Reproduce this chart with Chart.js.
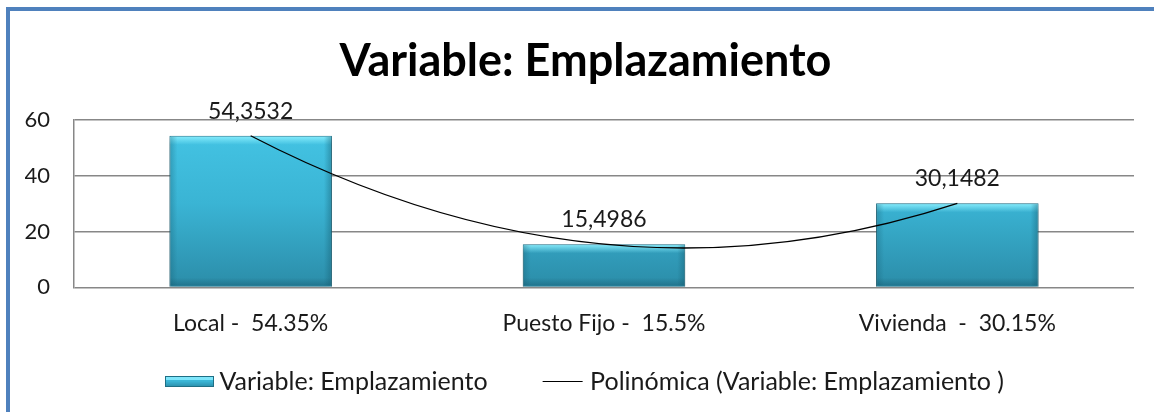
<!DOCTYPE html>
<html>
<head>
<meta charset="utf-8">
<script src="https://cdn.jsdelivr.net/npm/chart.js@4/dist/chart.umd.min.js"></script>
<style>
  html, body { margin: 0; padding: 0; background: #fff; overflow: hidden; }
  #wrap { position: relative; width: 1154px; height: 412px; overflow: hidden; }
  #frame { position: absolute; left: 6px; top: 7px; width: 1200px; height: 440px; border: 4px solid #4F81BD; box-sizing: border-box; }
  canvas { position: absolute; left: 0; top: 0; }
</style>
</head>
<body>
<div id="wrap">
  <div id="frame"></div>
  <canvas id="chart" width="1154" height="412"></canvas>
</div>
<script>
const categories = ['Local -  54.35%', 'Puesto Fijo -  15.5%', 'Vivienda  -  30.15%'];
const values = [54.3532, 15.4986, 30.1482];
const valueLabels = ['54,3532', '15,4986', '30,1482'];
const yTicks = [0, 20, 40, 60];
const seriesName = 'Variable: Emplazamiento';
const trendName = 'Polinómica (Variable: Emplazamiento )';

const FONT = 'Lato';
const LEG_BOX = 72;

function barGradient(ctx, top, bottom) {
    const g = ctx.createLinearGradient(0, top, 0, bottom);
    g.addColorStop(0, '#45c6e6');
    g.addColorStop(0.5, '#3ab4d4');
    g.addColorStop(1, '#2b8ca8');
    return g;
}

// legend swatches (wide transparent canvas, visible mark sits at the right end of the box)
function makeBarSwatch() {
    const c = document.createElement('canvas');
    c.width = LEG_BOX * 2; c.height = 11;
    const x = c.getContext('2d');
    x.translate(66, 0);
    x.fillStyle = barGradient(x, 0, 11);
    x.fillRect(0, 0, 49, 11);
    x.fillStyle = '#7fe6fb';
    x.fillRect(1, 1, 47, 3);
    x.strokeStyle = '#1f6f85';
    x.strokeRect(0.5, 0.5, 48, 10);
    return c;
}
function makeLineSwatch() {
    const c = document.createElement('canvas');
    c.width = LEG_BOX * 2; c.height = 3;
    const x = c.getContext('2d');
    x.fillStyle = '#000';
    x.fillRect(73, 1, 40, 1);
    return c;
}
const barSwatch = makeBarSwatch();
const lineSwatch = makeLineSwatch();

// small nudges so title/legend sit where they do in the original
const nudgePlugin = {
    id: 'nudge',
    afterLayout(chart) {
        if (chart.titleBlock) { chart.titleBlock.left += 6; chart.titleBlock.right += 6; }
        if (chart.legend) { chart.legend.left -= 10; chart.legend.right -= 10; }
    }
};

const valueLabelPlugin = {
    id: 'valueLabels',
    beforeDatasetDraw(chart, args) {
        if (args.index === 0) {
            const ctx = chart.ctx;
            ctx.save();
            ctx.shadowColor = 'rgba(0,0,0,0.35)';
            ctx.shadowBlur = 6;
            ctx.shadowOffsetY = 4;
        }
    },
    afterDatasetDraw(chart, args) {
        const ctx = chart.ctx;
        if (args.index === 1) {
            // trendline: parabola through the three points (quadratic bezier)
            const pts = chart.getDatasetMeta(1).data;
            if (pts.length === 3) {
                const p0 = pts[0], p1 = pts[1], p2 = pts[2];
                const cx = 2 * p1.x - (p0.x + p2.x) / 2;
                const cy = 2 * p1.y - (p0.y + p2.y) / 2;
                ctx.save();
                ctx.strokeStyle = '#000';
                ctx.lineWidth = 1.3;
                ctx.beginPath();
                ctx.moveTo(p0.x, p0.y);
                ctx.quadraticCurveTo(cx, cy, p2.x, p2.y);
                ctx.stroke();
                ctx.restore();
            }
            return;
        }
        if (args.index !== 0) return;
        ctx.restore();
        const meta = chart.getDatasetMeta(0);
        ctx.save();
        meta.data.forEach((bar) => {
            const l = bar.x - bar.width / 2, r = bar.x + bar.width / 2;
            const t = bar.y, b = bar.base;
            // bevel highlights
            const hg = ctx.createLinearGradient(0, t, 0, t + 9);
            hg.addColorStop(0, 'rgba(140,240,255,0.95)');
            hg.addColorStop(1, 'rgba(140,240,255,0)');
            ctx.fillStyle = hg;
            ctx.fillRect(l + 1, t + 1, r - l - 2, 9);
            const bg = ctx.createLinearGradient(0, b - 9, 0, b);
            bg.addColorStop(0, 'rgba(20,80,100,0)');
            bg.addColorStop(1, 'rgba(20,80,100,0.45)');
            ctx.fillStyle = bg;
            ctx.fillRect(l + 1, b - 9, r - l - 2, 8);
            const lg = ctx.createLinearGradient(l, 0, l + 8, 0);
            lg.addColorStop(0, 'rgba(20,90,110,0.35)');
            lg.addColorStop(1, 'rgba(20,90,110,0)');
            ctx.fillStyle = lg;
            ctx.fillRect(l + 1, t + 1, 8, b - t - 2);
            const rg = ctx.createLinearGradient(r - 8, 0, r, 0);
            rg.addColorStop(0, 'rgba(20,90,110,0)');
            rg.addColorStop(1, 'rgba(20,90,110,0.45)');
            ctx.fillStyle = rg;
            ctx.fillRect(r - 9, t + 1, 8, b - t - 2);
        });
        ctx.restore();
    },
    afterDraw(chart) {
        const ctx = chart.ctx;
        const meta = chart.getDatasetMeta(0);
        ctx.save();
        ctx.font = '23px ' + FONT;
        ctx.fillStyle = '#1a1a1a';
        ctx.textAlign = 'center';
        ctx.textBaseline = 'alphabetic';
        meta.data.forEach((bar, i) => {
            ctx.fillText(valueLabels[i], bar.x, bar.y - 17);
        });
        ctx.restore();
    }
};

const ctx = document.getElementById('chart').getContext('2d');
new Chart(ctx, {
    data: {
        labels: categories,
        datasets: [{
            type: 'bar',
            label: seriesName,
            data: values,
            backgroundColor: (c) => {
                const a = c.chart.chartArea;
                if (!a) return '#38b3d3';
                return barGradient(c.chart.ctx, a.top, a.bottom);
            },
            borderColor: '#1f6f85',
            borderWidth: 1,
            barPercentage: 0.46,
            categoryPercentage: 1,
            order: 2
        }, {
            type: 'line',
            label: trendName,
            data: values,
            borderColor: '#000',
            borderWidth: 0,
            showLine: false,
            pointRadius: 0,
            fill: false,
            order: 1
        }]
    },
    options: {
        responsive: false,
        animation: false,
        layout: { padding: { left: 25, right: 20, top: 16, bottom: 8 } },
        plugins: {
            title: {
                display: true,
                text: seriesName,
                color: '#000',
                font: { family: FONT, size: 45, weight: 'bold' },
                padding: { top: 18, bottom: 32 }
            },
            legend: {
                position: 'bottom',
                labels: {
                    usePointStyle: true,
                    pointStyleWidth: LEG_BOX,
                    boxHeight: 11,
                    padding: 18,
                    color: '#1a1a1a',
                    font: { family: FONT, size: 25 },
                    generateLabels(chart) {
                        return chart.data.datasets.map((ds, i) => ({
                            text: ds.label,
                            pointStyle: i === 0 ? barSwatch : lineSwatch,
                            fillStyle: 'transparent',
                            strokeStyle: 'transparent',
                            lineWidth: 0,
                            fontColor: '#1a1a1a',
                            datasetIndex: i
                        }));
                    }
                }
            },
            tooltip: { enabled: false }
        },
        scales: {
            x: {
                grid: { display: false },
                border: { display: false },
                ticks: { color: '#1a1a1a', font: { family: FONT, size: 23 }, padding: 14 }
            },
            y: {
                min: 0,
                max: 60,
                afterBuildTicks(axis) { axis.ticks = yTicks.map(v => ({ value: v })); },
                afterFit(axis) { axis.width = 49; },
                grid: { color: '#878787', lineWidth: 1.5, drawTicks: false },
                border: { display: true, color: '#878787', width: 1.5 },
                ticks: { color: '#1a1a1a', font: { family: FONT, size: 22 }, padding: 24 }
            }
        }
    },
    plugins: [valueLabelPlugin, nudgePlugin]
});
</script>
</body>
</html>
